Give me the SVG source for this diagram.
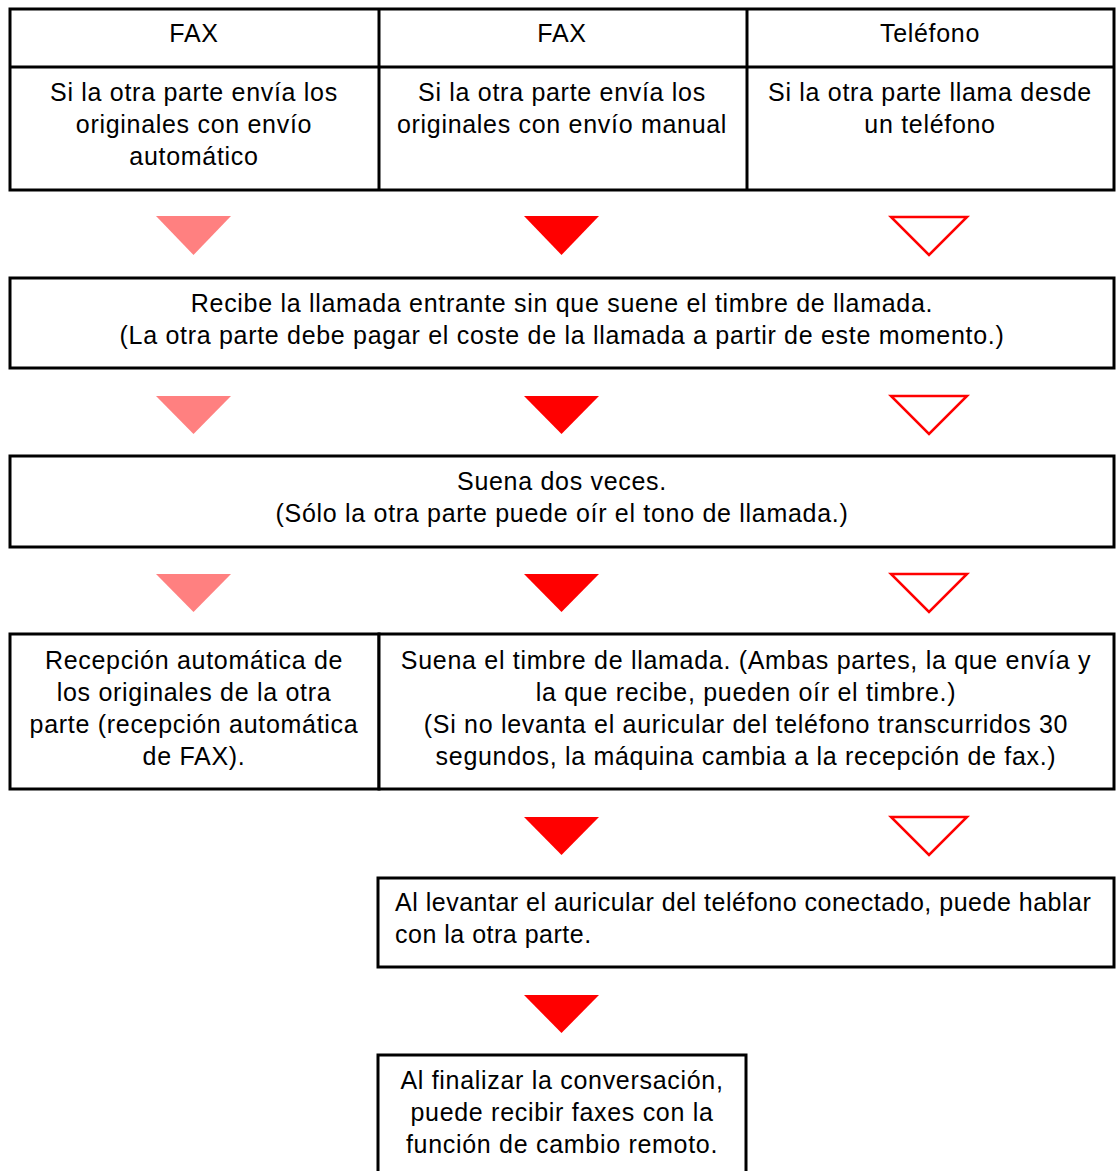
<svg xmlns="http://www.w3.org/2000/svg" width="1118" height="1171" viewBox="0 0 1118 1171">
<style>
.box{fill:#fff;stroke:#000;stroke-width:3}
.ln{stroke:#000;stroke-width:3}
text{font-family:"Liberation Sans",Arial,sans-serif;font-size:25px;letter-spacing:0.7px;fill:#000}
.c{text-anchor:middle}
.l{letter-spacing:0.5px}
.pink{fill:#FF8080}
.red{fill:#FF0000}
.open{fill:none;stroke:#FF0000;stroke-width:2.5}
</style>
<rect width="1118" height="1171" fill="#fff"/>
<g id="connectors">
<polygon class="pink" points="156,216 231,216 193.5,255"/>
<polygon class="red" points="524,216 599,216 561.5,255"/>
<polygon class="open" points="891,217 967,217 929,255"/>
<polygon class="pink" points="156,396 231,396 193.5,434"/>
<polygon class="red" points="524,396 599,396 561.5,434"/>
<polygon class="open" points="891,396 967,396 929,434"/>
<polygon class="pink" points="156,574 231,574 193.5,612"/>
<polygon class="red" points="524,574 599,574 561.5,612"/>
<polygon class="open" points="891,574 967,574 929,612"/>
<polygon class="red" points="524,817 599,817 561.5,855"/>
<polygon class="open" points="891,817 967,817 929,855"/>
<polygon class="red" points="524,995 599,995 561.5,1033"/>
</g>
<g id="header">
<rect class="box" x="10" y="9" width="1104" height="181"/>
<line class="ln" x1="10" y1="67" x2="1114" y2="67"/>
<line class="ln" x1="379" y1="9" x2="379" y2="190"/>
<line class="ln" x1="747" y1="9" x2="747" y2="190"/>
<text class="c" x="194" y="42">FAX</text>
<text class="c" x="562" y="42">FAX</text>
<text class="c" x="930" y="42">Teléfono</text>
<text class="c" x="194" y="101">Si la otra parte envía los</text>
<text class="c" x="194" y="133">originales con envío</text>
<text class="c" x="194" y="165">automático</text>
<text class="c" x="562" y="101">Si la otra parte envía los</text>
<text class="c" x="562" y="133">originales con envío manual</text>
<text class="c" x="930" y="101">Si la otra parte llama desde</text>
<text class="c" x="930" y="133">un teléfono</text>
</g>
<g id="node-recibe">
<rect class="box" x="10" y="278" width="1104" height="90"/>
<text class="c" x="562" y="312">Recibe la llamada entrante sin que suene el timbre de llamada.</text>
<text class="c" x="562" y="344">(La otra parte debe pagar el coste de la llamada a partir de este momento.)</text>
</g>
<g id="node-suena">
<rect class="box" x="10" y="456" width="1104" height="91"/>
<text class="c" x="562" y="490">Suena dos veces.</text>
<text class="c" x="562" y="522">(Sólo la otra parte puede oír el tono de llamada.)</text>
</g>
<g id="node-recepcion">
<rect class="box" x="10" y="634" width="369" height="155"/>
<text class="c" x="194" y="669">Recepción automática de</text>
<text class="c" x="194" y="701">los originales de la otra</text>
<text class="c" x="194" y="733">parte (recepción automática</text>
<text class="c" x="194" y="765">de FAX).</text>
</g>
<g id="node-timbre">
<rect class="box" x="379" y="634" width="735" height="155"/>
<text class="c" x="746" y="669">Suena el timbre de llamada. (Ambas partes, la que envía y</text>
<text class="c" x="746" y="701">la que recibe, pueden oír el timbre.)</text>
<text class="c" x="746" y="733">(Si no levanta el auricular del teléfono transcurridos 30</text>
<text class="c" x="746" y="765">segundos, la máquina cambia a la recepción de fax.)</text>
</g>
<g id="node-levantar">
<rect class="box" x="378" y="878" width="736" height="89"/>
<text class="l" x="395" y="911">Al levantar el auricular del teléfono conectado, puede hablar</text>
<text class="l" x="395" y="943">con la otra parte.</text>
</g>
<g id="node-finalizar">
<rect class="box" x="378" y="1055" width="368" height="130"/>
<text class="c" x="562" y="1089">Al finalizar la conversación,</text>
<text class="c" x="562" y="1121">puede recibir faxes con la</text>
<text class="c" x="562" y="1153">función de cambio remoto.</text>
</g>
</svg>
